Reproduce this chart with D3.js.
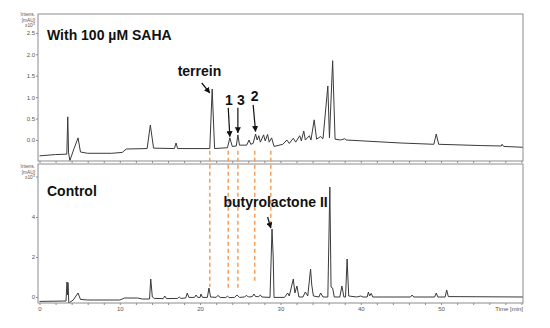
<!DOCTYPE html>
<html>
<head>
<meta charset="utf-8">
<script src="https://cdn.jsdelivr.net/npm/d3@7"></script>
<style>
  body { margin: 0; background: #fff; }
  svg { display: block; font-family: "Liberation Sans", Arial, sans-serif; }
</style>
</head>
<body>
<svg id="chart" width="550" height="328"></svg>
<script>
// ---------------------------------------------------------------------------
// data: [time (min), intensity (x10^5 mAU)]
// ---------------------------------------------------------------------------
var sahaTrace = [
  [0, -0.37], [2, -0.34], [3.4, -0.33], [3.52, 0.54], [3.62, -0.3], [3.78, -0.48],
  [4.3, -0.2], [4.8, 0.05], [5.1, -0.28], [6, -0.31], [9, -0.31], [10.3, -0.29],
  [10.8, -0.21], [13.4, -0.2], [13.8, 0.35], [14.2, -0.19], [16.8, -0.2], [17.0, -0.07],
  [17.2, -0.2], [21.2, -0.2], [21.5, 1.19], [21.8, -0.2], [23.4, -0.18], [23.7, 0.05],
  [24.0, -0.15], [24.5, -0.14], [24.7, 0.12], [24.9, -0.12], [25.8, -0.12], [26.1, 0.0],
  [26.3, -0.1], [26.6, -0.08], [26.9, 0.14], [27.1, 0.0], [27.3, 0.1], [27.5, -0.05],
  [27.9, 0.12], [28.1, -0.02], [28.4, 0.13], [28.6, -0.05], [28.9, 0.05], [29.2, -0.15],
  [30.3, -0.1], [30.8, 0.0], [31.1, -0.08], [31.6, 0.04], [31.9, -0.05], [32.4, 0.1],
  [32.6, -0.02], [32.9, 0.21], [33.1, 0.0], [33.6, 0.1], [33.8, 0.0], [34.2, 0.47],
  [34.5, 0.02], [35.0, 0.08], [35.3, 0.03], [35.9, 1.26], [36.1, 0.05], [36.5, 1.85],
  [36.8, 0.02], [37.5, 0.0], [38.0, 0.03], [38.2, 0.0], [45, -0.07], [49.1, -0.1],
  [49.4, 0.14], [49.7, -0.1], [55, -0.13], [57.5, -0.14], [57.6, -0.1], [57.8, -0.15],
  [60.2, -0.17]
];

var controlTrace = [
  [0, -0.22], [3.3, -0.2], [3.42, 0.75], [3.5, 0.1], [3.55, 0.72], [3.65, -0.3],
  [4.2, -0.15], [4.8, 0.2], [5.1, -0.12], [6, -0.15], [10, -0.15], [10.6, -0.05],
  [12.2, -0.05], [12.8, -0.1], [13.7, -0.1], [13.85, 0.9], [14.05, 0.0], [14.3, -0.07],
  [15.4, -0.08], [15.6, 0.05], [15.8, -0.08], [17.2, -0.07], [17.4, 0.0], [17.6, -0.07],
  [18.2, -0.05], [18.4, 0.2], [18.6, -0.02], [19.3, -0.02], [19.5, 0.1], [19.7, -0.02],
  [20.0, -0.02], [20.1, 0.15], [20.3, -0.02], [20.9, -0.02], [21.1, 0.45], [21.3, 0.0],
  [22.0, -0.02], [22.2, 0.08], [22.5, -0.02], [23.2, -0.03], [23.4, 0.05], [23.6, -0.03],
  [24.3, -0.02], [24.6, 0.1], [24.9, -0.02], [25.5, 0.0], [25.8, 0.08], [26.0, 0.0],
  [26.5, 0.02], [26.7, 0.15], [26.9, 0.02], [27.3, 0.02], [27.5, 0.1], [27.7, 0.0],
  [28.7, -0.02], [28.95, 3.4], [29.1, 2.0], [29.2, -0.02], [30.5, -0.02], [30.9, 0.2],
  [31.1, 0.05], [31.6, 0.9], [31.8, 0.2], [32.05, 0.55], [32.3, 0.0], [32.8, 0.0],
  [33.1, 0.25], [33.4, 0.05], [33.75, 1.4], [33.9, 0.6], [34.1, 0.05], [34.8, 0.0],
  [35.0, 0.2], [35.3, 0.0], [35.9, 0.0], [36.15, 5.5], [36.3, 0.5], [36.5, 0.45],
  [36.7, 0.0], [37.4, 0.0], [37.65, 0.55], [37.9, 0.0], [38.1, 0.0], [38.3, 1.9],
  [38.5, 0.05], [39.5, 0.0], [40.0, 0.05], [40.3, 0.0], [40.8, 0.0], [40.95, 0.25],
  [41.1, 0.05], [41.3, 0.18], [41.5, 0.0], [46.2, 0.0], [46.4, 0.1], [46.6, 0.0],
  [49.2, 0.0], [49.4, 0.2], [49.6, 0.0], [50.5, 0.0], [50.7, 0.35], [50.9, 0.02],
  [60.2, 0.0]
];

var topTicks = [0, 0.5, 1, 1.5, 2, 2.5];
var bottomTicks = [0, 2, 4];
var timeTicks = [0, 10, 20, 30, 40, 50];

// dashed guide lines: retention time, start in SAHA panel, end in control panel
var guideTimes = [21.2, 23.5, 24.7, 26.8, 28.8];
var guideStart = -0.25;
var guideEnds = [0.5, 0.35, 0.35, 0.7, 3.45];

// compound labels in SAHA panel: text, label time, label value, arrow tip time, tip value
var sahaLabels = [
  {text: "terrein", t: 17.2, v: 1.5, at: 20.2, av: 1.33, tt: 21.2, tv: 1.1},
  {text: "1", t: 23.1, v: 0.82, at: 23.5, av: 0.75, tt: 23.7, tv: 0.08},
  {text: "3", t: 24.6, v: 0.82, at: 24.7, av: 0.75, tt: 24.7, tv: 0.17},
  {text: "2", t: 26.3, v: 0.9, at: 26.6, av: 0.82, tt: 26.9, tv: 0.2}
];
var controlLabels = [
  {text: "butyrolactone II", t: 22.9, v: 4.5, at: 28.4, av: 4.0, tt: 28.8, tv: 3.45}
];

// ---------------------------------------------------------------------------
// layout and scales
// ---------------------------------------------------------------------------
var svg = d3.select("#chart");
var left = 38, right = 523;
var topPanel = {y0: 14, y1: 161};
var botPanel = {y0: 164, y1: 303};

var x = d3.scaleLinear().domain([0, 60.2]).range([39.5, 523]);
var yTop = d3.scaleLinear().domain([-0.49, 2.94]).range([topPanel.y1, topPanel.y0]);
var yBot = d3.scaleLinear().domain([-0.3, 6.65]).range([botPanel.y1, botPanel.y0]);

var frameColor = "#8c8c8c";
var traceColor = "#3a3a3a";
var tickText = "#555";

var defs = svg.append("defs");
defs.append("marker")
    .attr("id", "head")
    .attr("viewBox", "0 0 10 10")
    .attr("refX", 9).attr("refY", 5)
    .attr("markerWidth", 5).attr("markerHeight", 5)
    .attr("orient", "auto")
  .append("path")
    .attr("d", "M0,0L10,5L0,10z")
    .attr("fill", "#111");

["clipTop", "clipBot"].forEach(function(id, i) {
  var p = i == 0 ? topPanel : botPanel;
  defs.append("clipPath").attr("id", id)
    .append("rect")
    .attr("x", left).attr("y", p.y0)
    .attr("width", right - left).attr("height", p.y1 - p.y0);
});

function drawPanel(p, y, trace, ticks, fmt, clipId, showTime) {
  var g = svg.append("g");

  // trace
  var line = d3.line().x(d => x(d[0])).y(d => y(d[1]));
  g.append("path")
    .datum(trace)
    .attr("clip-path", "url(#" + clipId + ")")
    .attr("d", line)
    .attr("fill", "none")
    .attr("stroke", traceColor)
    .attr("stroke-width", 1)
    .attr("stroke-linejoin", "round");

  // frame
  g.append("rect")
    .attr("x", left).attr("y", p.y0)
    .attr("width", right - left).attr("height", p.y1 - p.y0)
    .attr("fill", "none")
    .attr("stroke", frameColor)
    .attr("stroke-width", 1);

  // y axis
  var yAxis = d3.axisLeft(y).tickValues(ticks).tickSize(2).tickFormat(fmt);
  var ya = g.append("g").attr("transform", "translate(" + left + ",0)").call(yAxis);
  ya.select(".domain").remove();
  ya.selectAll("line").attr("stroke", frameColor);
  ya.selectAll("text").attr("fill", tickText).style("font-size", "6px").attr("x", -3);

  // x axis (minor ticks every 2 min)
  var xAxis = d3.axisBottom(x).tickValues(d3.range(0, 61, 2)).tickSize(2)
      .tickFormat(d => showTime && timeTicks.indexOf(d) >= 0 ? d : "");
  var xa = g.append("g").attr("transform", "translate(0," + p.y1 + ")").call(xAxis);
  xa.select(".domain").remove();
  xa.selectAll("line").attr("stroke", frameColor);
  xa.selectAll("text").attr("fill", tickText).style("font-size", "6px").attr("y", 4);
  return g;
}

drawPanel(topPanel, yTop, sahaTrace, topTicks, d3.format(".1f"), "clipTop", false);
var gb = drawPanel(botPanel, yBot, controlTrace, bottomTicks, d3.format("d"), "clipBot", true);

gb.append("text")
  .attr("x", right).attr("y", 311)
  .attr("text-anchor", "end")
  .attr("fill", tickText)
  .style("font-size", "6px")
  .text("Time [min]");

// unit headers
function unitHeader(yLast) {
  var g = svg.append("g").attr("fill", tickText).style("font-size", "4.8px").attr("text-anchor", "end");
  g.append("text").attr("x", 35).attr("y", yLast - 11).text("Intens.");
  g.append("text").attr("x", 35).attr("y", yLast - 5.5).text("[mAU]");
  var t = g.append("text").attr("x", 35).attr("y", yLast);
  t.append("tspan").text("x10");
  t.append("tspan").attr("dy", -1.8).style("font-size", "4px").text("5");
}
unitHeader(27);
unitHeader(179);
svg.append("line")
  .attr("x1", left - 2).attr("x2", left)
  .attr("y1", yBot(6)).attr("y2", yBot(6))
  .attr("stroke", frameColor);

// panel titles
svg.append("text").attr("x", 47).attr("y", 40)
  .style("font-size", "14px").style("font-weight", "bold").attr("fill", "#111")
  .text("With 100 \u00b5M SAHA");
svg.append("text").attr("x", 47).attr("y", 196)
  .style("font-size", "14px").style("font-weight", "bold").attr("fill", "#111")
  .text("Control");

// dashed guides
svg.append("g").selectAll("line")
  .data(guideTimes)
  .join("line")
  .attr("x1", d => x(d)).attr("x2", d => x(d))
  .attr("y1", yTop(guideStart))
  .attr("y2", (d, i) => yBot(guideEnds[i]))
  .attr("stroke", "#f5a05a")
  .attr("stroke-width", 1.5)
  .attr("stroke-dasharray", "4,3");

// labels with arrows
function addLabels(list, y) {
  var g = svg.append("g");
  list.forEach(function(d) {
    g.append("text")
      .attr("x", x(d.t)).attr("y", y(d.v))
      .style("font-size", "14px").style("font-weight", "bold").attr("fill", "#111")
      .text(d.text);
    g.append("line")
      .attr("x1", x(d.at)).attr("y1", y(d.av))
      .attr("x2", x(d.tt)).attr("y2", y(d.tv))
      .attr("stroke", "#111").attr("stroke-width", 1.2)
      .attr("marker-end", "url(#head)");
  });
}
addLabels(sahaLabels, yTop);
addLabels(controlLabels, yBot);
</script>
</body>
</html>
